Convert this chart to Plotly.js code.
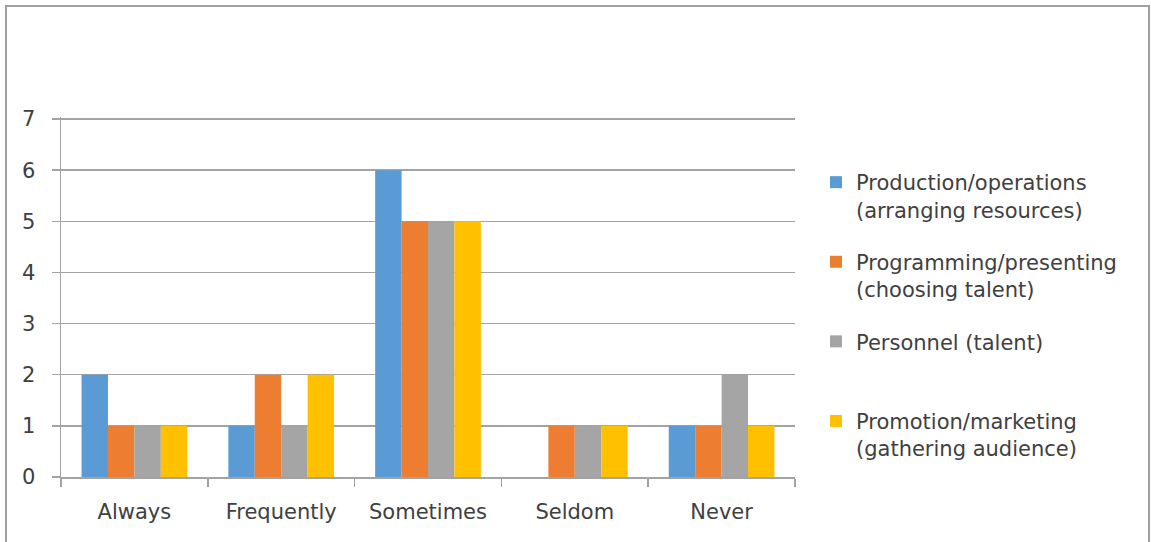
<!DOCTYPE html>
<html>
<head>
<meta charset="utf-8">
<script src="https://cdn.plot.ly/plotly-3.0.1.min.js"></script>
<style>
  html, body { margin: 0; padding: 0; background: #ffffff; }
  #chart { width: 1151px; height: 542px; }
</style>
</head>
<body>
<div id="chart"></div>
<script>
// How often each management area comes up, by frequency
const categories = ["Always", "Frequently", "Sometimes", "Seldom", "Never"];

const seriesNames = [
  "Production/operations<br>(arranging resources)",
  "Programming/presenting<br>(choosing talent)",
  "Personnel (talent)<br> ",
  "Promotion/marketing<br>(gathering audience)"
];

const production  = [2, 1, 6, 0, 1];
const programming = [1, 2, 5, 1, 1];
const personnel   = [1, 1, 5, 1, 2];
const promotion   = [1, 2, 5, 1, 1];

const yTicks = [0, 1, 2, 3, 4, 5, 6, 7];

const seriesValues = [production, programming, personnel, promotion];
const seriesColors = ["#5B9BD5", "#ED7D31", "#A5A5A5", "#FFC000"];

const textColor = "#404040";
const gridColor = "#a3a3a3";
const fontFamily = "DejaVu Sans, Open Sans, sans-serif";
const fontSize = 21;

const traces = seriesValues.map((vals, i) => ({
  type: "bar",
  name: seriesNames[i],
  x: categories,
  y: vals,
  legendgroup: "g" + i,
  marker: { color: seriesColors[i], line: { width: 0 } },
  hoverinfo: "x+y"
}));

// plot area spans x 61..795 px, y 117..477 px (a little headroom above 7 so its gridline shows)
const L = 61, R = 1151 - 795, T = 117, B = 542 - 477;
const plotW = 1151 - L - R, plotH = 542 - T - B;
const px = v => (v - L) / plotW;
const py = v => (542 - B - v) / plotH;

const layout = {
  width: 1151,
  height: 542,
  margin: { l: L, r: R, t: T, b: B, pad: 0 },
  paper_bgcolor: "#ffffff",
  plot_bgcolor: "#ffffff",
  font: { family: fontFamily, size: fontSize, color: textColor },
  barmode: "group",
  bargap: 0.28,
  bargroupgap: 0,
  showlegend: true,
  legend: {
    x: px(816), xanchor: "left",
    y: py(162), yanchor: "top",
    valign: "top",
    traceorder: "grouped",
    tracegroupgap: 22,
    font: { family: fontFamily, size: fontSize, color: textColor },
    bgcolor: "rgba(0,0,0,0)"
  },
  xaxis: {
    type: "category",
    tickson: "boundaries",
    ticks: "outside",
    ticklen: 8,
    tickwidth: 1.5,
    tickcolor: gridColor,
    showline: true,
    linecolor: gridColor,
    linewidth: 1.5,
    showgrid: false,
    ticklabelstandoff: 15,
    tickfont: { family: fontFamily, size: fontSize, color: textColor },
    fixedrange: true
  },
  yaxis: {
    range: [0, 7.04],
    tickvals: yTicks,
    ticktext: yTicks.map(String),
    ticks: "outside",
    ticklen: 8,
    tickwidth: 1.5,
    tickcolor: gridColor,
    showline: true,
    linecolor: gridColor,
    linewidth: 1.5,
    showgrid: true,
    gridcolor: gridColor,
    gridwidth: 1.5,
    zeroline: false,
    ticklabelstandoff: 12,
    tickfont: { family: fontFamily, size: fontSize, color: textColor },
    fixedrange: true
  },
  shapes: [
    // chart frame
    {
      type: "rect", xref: "paper", yref: "paper",
      x0: px(6), x1: px(1149), y0: py(560), y1: py(6),
      line: { color: "#a0a0a0", width: 2 },
      fillcolor: "rgba(0,0,0,0)", layer: "below"
    }
  ]
};

Plotly.newPlot("chart", traces, layout, { displayModeBar: false, staticPlot: true });
</script>
</body>
</html>
